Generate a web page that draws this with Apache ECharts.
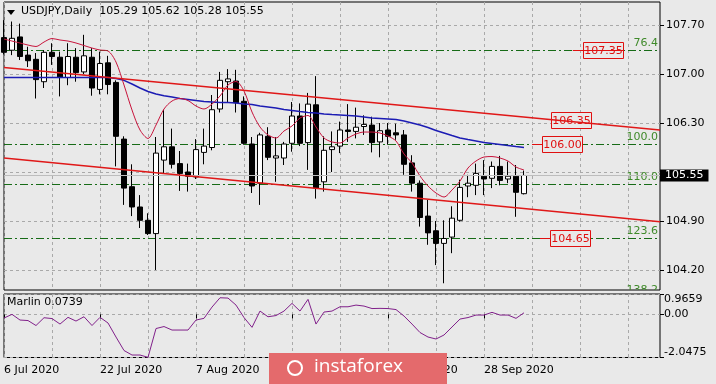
<!DOCTYPE html>
<html><head><meta charset="utf-8">
<script src="https://cdn.jsdelivr.net/npm/echarts@6/dist/echarts.min.js"></script>
<style>html,body{margin:0;padding:0;background:#e9e9e9}#c{width:716px;height:384px}</style>
</head><body><div id="c"></div><script>
// ---------- data ----------
const dates = ['6 Jul 2020','7 Jul 2020','8 Jul 2020','9 Jul 2020','10 Jul 2020','13 Jul 2020','14 Jul 2020','15 Jul 2020','16 Jul 2020','17 Jul 2020','20 Jul 2020','21 Jul 2020','22 Jul 2020','23 Jul 2020','24 Jul 2020','27 Jul 2020','28 Jul 2020','29 Jul 2020','30 Jul 2020','31 Jul 2020','3 Aug 2020','4 Aug 2020','5 Aug 2020','6 Aug 2020','7 Aug 2020','10 Aug 2020','11 Aug 2020','12 Aug 2020','13 Aug 2020','14 Aug 2020','17 Aug 2020','18 Aug 2020','19 Aug 2020','20 Aug 2020','21 Aug 2020','24 Aug 2020','25 Aug 2020','26 Aug 2020','27 Aug 2020','28 Aug 2020','31 Aug 2020','1 Sep 2020','2 Sep 2020','3 Sep 2020','4 Sep 2020','7 Sep 2020','8 Sep 2020','9 Sep 2020','10 Sep 2020','11 Sep 2020','14 Sep 2020','15 Sep 2020','16 Sep 2020','17 Sep 2020','18 Sep 2020','21 Sep 2020','22 Sep 2020','23 Sep 2020','24 Sep 2020','25 Sep 2020','28 Sep 2020','29 Sep 2020','30 Sep 2020','1 Oct 2020','2 Oct 2020','5 Oct 2020'];
const futureDates = ['6 Oct 2020','7 Oct 2020','8 Oct 2020','9 Oct 2020','12 Oct 2020','13 Oct 2020','14 Oct 2020','15 Oct 2020','16 Oct 2020','19 Oct 2020','20 Oct 2020','21 Oct 2020','22 Oct 2020','23 Oct 2020','26 Oct 2020','27 Oct 2020','28 Oct 2020'];

const opens  = [107.52,107.34,107.53,107.27,107.21,106.89,107.31,107.24,106.95,107.24,107.03,107.24,106.78,107.16,106.88,106.07,105.39,105.10,104.91,104.72,105.77,105.96,105.72,105.60,105.53,105.88,105.95,106.50,106.89,106.90,106.61,106.00,105.44,106.11,105.80,105.80,106.01,106.40,106.02,106.56,105.46,105.92,105.97,106.20,106.18,106.25,106.27,106.03,106.20,106.16,106.13,105.73,105.44,104.97,104.76,104.58,104.67,104.91,105.40,105.41,105.54,105.51,105.68,105.50,105.54,105.29];
const highs  = [107.77,107.75,107.72,107.39,107.30,107.34,107.44,107.32,107.44,107.37,107.56,107.37,107.32,107.26,106.91,106.11,105.71,105.27,105.01,106.10,106.49,106.22,105.90,105.72,106.07,106.22,106.70,107.03,107.07,107.06,106.68,106.10,106.16,106.24,106.10,106.03,106.60,106.58,106.73,106.97,106.11,106.18,106.32,106.57,106.52,106.41,106.39,106.30,106.30,106.29,106.20,105.84,105.48,105.20,104.90,104.91,105.11,105.49,105.56,105.72,105.77,105.75,105.83,105.75,105.70,105.62];
const lows   = [107.28,107.27,107.20,107.10,106.65,106.80,107.13,106.68,106.84,106.89,107.00,106.69,106.71,106.71,105.68,105.13,104.97,104.80,104.70,104.20,105.58,105.65,105.33,105.32,105.50,105.71,105.91,106.45,106.59,106.45,105.99,105.30,105.13,105.77,105.46,105.70,105.89,105.97,105.63,105.22,105.32,105.60,105.87,106.03,106.08,106.13,105.88,105.81,105.99,106.06,105.56,105.32,104.82,104.56,104.27,104.01,104.44,104.89,105.24,105.27,105.27,105.37,105.41,105.44,104.96,105.28];
const closes = [107.31,107.51,107.25,107.19,106.92,107.31,107.25,106.95,107.25,107.02,107.26,106.80,107.15,106.85,106.11,105.37,105.10,104.91,104.72,105.87,105.96,105.71,105.58,105.54,105.92,105.97,106.49,106.91,106.93,106.59,106.01,105.40,106.13,105.81,105.83,106.00,106.40,106.01,106.57,105.37,105.91,105.96,106.20,106.18,106.24,106.28,106.02,106.19,106.11,106.13,105.71,105.44,104.95,104.73,104.58,104.65,104.94,105.38,105.44,105.58,105.50,105.68,105.48,105.54,105.31,105.55];

const maSlow = [106.95,106.95,106.95,106.95,106.95,106.95,106.95,106.95,106.95,106.95,106.95,106.95,106.95,106.95,106.935,106.91,106.857,106.80,106.75,106.714,106.69,106.67,106.65,106.636,106.62,106.607,106.60,106.593,106.593,106.586,106.571,106.564,106.543,106.529,106.514,106.493,106.479,106.464,106.45,106.443,106.429,106.421,106.414,106.407,106.40,106.386,106.371,106.364,106.357,106.35,106.329,106.30,106.271,106.236,106.193,106.157,106.121,106.086,106.064,106.043,106.021,106.007,105.993,105.979,105.964,105.95];
const maFast = [107.50,107.471,107.443,107.414,107.393,107.457,107.507,107.486,107.471,107.443,107.407,107.371,107.343,107.329,107.171,106.843,106.486,106.20,106.079,106.271,106.50,106.614,106.65,106.621,106.543,106.50,106.571,106.686,106.843,106.893,106.757,106.457,106.243,106.129,106.086,106.186,106.257,106.371,106.407,106.243,106.086,106.029,106.014,106.086,106.143,106.171,106.171,106.157,106.114,106.043,105.857,105.729,105.543,105.40,105.30,105.243,105.343,105.471,105.657,105.757,105.814,105.821,105.80,105.757,105.671,105.629];
const marlin = [-0.175,0.0,-0.27,-0.294,-0.53,-0.16,-0.2,-0.46,-0.142,-0.318,-0.114,-0.53,-0.142,-0.41,-1.076,-1.716,-1.93,-1.93,-2.04,-0.673,-0.578,-0.744,-0.744,-0.744,-0.27,-0.19,0.346,0.787,0.773,0.44,-0.152,-0.616,0.156,-0.114,-0.057,0.156,0.521,0.156,0.711,-0.46,0.109,0.156,0.36,0.36,0.44,0.393,0.275,0.284,0.275,0.227,-0.08,-0.46,-0.862,-1.076,-1.17,-0.98,-0.60,-0.223,-0.152,-0.033,-0.033,0.095,-0.033,-0.033,-0.19,0.0739];

// trend channel: bar index of the ends and price at each end
const channelIdx = [0, 82];
const channelUpper = [107.094, 106.199];
const channelLower = [105.799, 104.889];

// Fibonacci levels
const fibPrices = [107.35, 106.00, 105.428, 104.65, 103.815];
const fibLabels = ['76.4', '100.0', '110.0', '123.6', '138.2'];

// price notes (boxes): price, bar index of box left edge, red lead line from/to bar index
const notePrices = [107.35, 106.35, 106.00, 104.65];
const noteAt = [72.4, 68.4, 67.3, 68.3];
const noteLineFrom = [71.1, null, 66.0, 67.0];
const noteLineTo = [77.4, null, 67.3, 68.3];

const priceTicks = [104.20, 104.90, 105.60, 106.30, 107.00, 107.70];
const priceLabelValues = [104.20, 104.90, 106.30, 107.00, 107.70];
const marlinTicks = [-2.0475, 0, 0.9659];
const lastPrice = 105.55;
const headerText = 'USDJPY,Daily  105.29 105.62 105.28 105.55';
const marlinTitle = 'Marlin 0.0739';
const watermarkText = 'instaforex';
const labelEvery = 12, gridEvery = 6, lastLabelIdx = 60;

// ---------- chart ----------
const FONT = 'DejaVu Sans';
const BG = '#e9e9e9';
const cats = dates.concat(futureDates);
const candles = opens.map((o, i) => [o, closes[i], lows[i], highs[i]]);
const gridLine = {show: true, interval: i => i % gridEvery === 0, lineStyle: {color: '#a9a9a9', width: 1, type: [3, 3]}};
const labelInterval = i => i % labelEvery === 0 && i <= lastLabelIdx;

const chart = echarts.init(document.getElementById('c'), null, {renderer: 'canvas'});
chart.setOption({
  animation: false,
  backgroundColor: BG,
  textStyle: {fontFamily: FONT},
  grid: [
    {left: 4, right: 56, top: 2, bottom: 94, show: true, borderColor: '#000', borderWidth: 1, backgroundColor: BG},
    {left: 4, right: 56, top: 294, bottom: 26.5, show: true, borderColor: '#000', borderWidth: 1, backgroundColor: BG}
  ],
  xAxis: [
    {type: 'category', gridIndex: 0, data: cats, boundaryGap: false,
     axisLine: {show: false}, axisTick: {show: false}, axisLabel: {show: false}, splitLine: gridLine},
    {type: 'category', gridIndex: 1, data: cats, boundaryGap: false,
     axisLine: {show: false},
     axisTick: {show: true, interval: labelInterval, length: 4, lineStyle: {color: '#000'}},
     axisLabel: {show: true, interval: labelInterval, align: 'left', color: '#000', fontSize: 11, fontFamily: FONT, margin: 7},
     splitLine: gridLine}
  ],
  yAxis: [
    {type: 'value', gridIndex: 0, position: 'right', min: 103.914, max: 108.029, scale: true,
     axisLine: {show: false},
     axisTick: {show: true, customValues: priceTicks, length: 4, lineStyle: {color: '#000'}},
     axisLabel: {show: true, customValues: priceLabelValues, formatter: v => v.toFixed(2), color: '#000', fontSize: 11, fontFamily: FONT, margin: 6},
     splitLine: {show: true, lineStyle: {color: '#a9a9a9', width: 1, type: [3, 3]}}},
    {type: 'value', gridIndex: 1, position: 'right', min: -2.0475, max: 0.9659,
     axisLine: {show: false},
     axisTick: {show: true, customValues: marlinTicks, length: 4, lineStyle: {color: '#000'}},
     axisLabel: {show: true, customValues: marlinTicks, formatter: v => (v === 0 ? '0.00' : String(v)), color: '#000', fontSize: 11, fontFamily: FONT, margin: 4,
                 verticalAlignMinLabel: 'bottom', verticalAlignMaxLabel: 'top'},
     splitLine: {show: true, lineStyle: {color: '#a9a9a9', width: 1, type: [3, 3]}}}
  ],
  series: [
    {type: 'custom', name: 'fib', xAxisIndex: 0, yAxisIndex: 0, clip: true, z: 1, silent: true,
     data: fibPrices.map((p, k) => [0, p, k]),
     renderItem: (params, api) => {
       const cs = params.coordSys;
       const y = Math.round(api.coord([0, api.value(1)])[1]) + 0.5;
       return {type: 'group', children: [
         {type: 'line', shape: {x1: cs.x, y1: y, x2: cs.x + cs.width, y2: y}, style: {stroke: '#176b17', lineWidth: 1, lineDash: [8, 3, 2, 3]}},
         {type: 'text', x: cs.x + cs.width - 2, y: y - 2, style: {text: fibLabels[api.value(2)], fill: '#3f8a2a', font: '11px "DejaVu Sans"', align: 'right', verticalAlign: 'bottom'}}
       ]};
     }},
    {type: 'candlestick', xAxisIndex: 0, yAxisIndex: 0, data: candles, barWidth: 5, z: 2,
     itemStyle: {color: '#ffffff', color0: '#000000', borderColor: '#000000', borderColor0: '#000000', borderWidth: 1},
     markLine: {silent: true, symbol: ['none', 'none'], animation: false,
       lineStyle: {color: '#bdbdbd', type: 'solid', width: 1},
       label: {show: true, position: 'end', formatter: () => lastPrice.toFixed(2), backgroundColor: '#000', color: '#fff', fontSize: 11, fontFamily: FONT, padding: [1, 5, 0, 5], distance: 0},
       data: [{yAxis: lastPrice}]}},
    {type: 'line', xAxisIndex: 0, yAxisIndex: 0, data: maSlow, showSymbol: false, symbol: 'none', z: 3,
     lineStyle: {color: '#1c1cb4', width: 1.5}},
    {type: 'line', xAxisIndex: 0, yAxisIndex: 0, data: maFast, showSymbol: false, symbol: 'none', z: 3, smooth: 0.3,
     lineStyle: {color: '#c8143c', width: 1}},
    {type: 'custom', name: 'notes', xAxisIndex: 0, yAxisIndex: 0, z: 4, silent: true,
     data: notePrices.map((p, k) => [0, p, k]),
     renderItem: (params, api) => {
       const k = api.value(2), p = api.value(1);
       const c0 = api.coord([0, p]), c1 = api.coord([1, p]);
       const step = c1[0] - c0[0];
       const y = Math.round(c0[1]) + 0.5;
       const xb = Math.round(c0[0] + noteAt[k] * step) + 0.5;
       const w = 40, h = 16;
       const ch = [
         {type: 'rect', shape: {x: xb, y: y - 8, width: w, height: h}, style: {fill: BG, stroke: '#e01010', lineWidth: 1}},
         {type: 'text', x: xb + w / 2, y: y + 1, style: {text: p.toFixed(2), fill: '#e01010', font: '11px "DejaVu Sans"', align: 'center', verticalAlign: 'middle'}}
       ];
       if (noteLineFrom[k] !== null) {
         ch.push({type: 'line', shape: {x1: c0[0] + noteLineFrom[k] * step, y1: y, x2: c0[0] + noteLineTo[k] * step, y2: y}, style: {stroke: '#e01010', lineWidth: 1}});
       }
       return {type: 'group', children: ch};
     }},
    {type: 'line', xAxisIndex: 0, yAxisIndex: 0, data: channelIdx.map((x, i) => [x, channelUpper[i]]), symbol: 'none', z: 5,
     lineStyle: {color: '#e01818', width: 1.5}},
    {type: 'line', xAxisIndex: 0, yAxisIndex: 0, data: channelIdx.map((x, i) => [x, channelLower[i]]), symbol: 'none', z: 5,
     lineStyle: {color: '#e01818', width: 1.5}},
    {type: 'line', xAxisIndex: 1, yAxisIndex: 1, data: marlin, symbol: 'none', showSymbol: false,
     lineStyle: {color: '#80208a', width: 1}}
  ],
  graphic: [
    {type: 'polygon', z: 100, shape: {points: [[7, 10], [15, 10], [11, 15]]}, style: {fill: '#000'}},
    {type: 'text', left: 21, top: 6, z: 100, style: {text: headerText, font: '11px "DejaVu Sans"', fill: '#000'}},
    {type: 'text', left: 7, top: 297, z: 100, style: {text: marlinTitle, font: '11px "DejaVu Sans"', fill: '#000'}},
    {type: 'rect', z: 200, zlevel: 1, shape: {x: 269, y: 353, width: 178, height: 31}, style: {fill: '#e46a6c'}},
    {type: 'circle', z: 201, zlevel: 1, shape: {cx: 295, cy: 368, r: 7}, style: {fill: 'none', stroke: '#fff', lineWidth: 2}},
    {type: 'text', z: 202, zlevel: 1, x: 314, y: 367, style: {text: watermarkText, font: '19px "Open Sans"', fill: '#ffffff', verticalAlign: 'middle'}}
  ]
});
</script></body></html>
